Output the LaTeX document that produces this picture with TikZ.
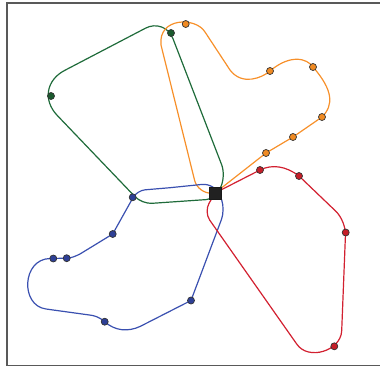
\documentclass[tikz,border=0pt]{standalone}
\usetikzlibrary{calc}
\definecolor{lgreen}{HTML}{1F6B3A}
\definecolor{dgreen}{HTML}{1A5A2E}
\definecolor{lorange}{HTML}{F7902A}
\definecolor{dorange}{HTML}{F08A22}
\definecolor{lred}{HTML}{D22030}
\definecolor{dred}{HTML}{C61E28}
\definecolor{lblue}{HTML}{3A50B0}
\definecolor{dblue}{HTML}{2E4096}
\begin{document}
\begin{tikzpicture}[x=1pt,y=-1pt,
  metro/.style={line width=1.2pt,line join=round},
  stn/.style={circle,draw=black!80,line width=0.7pt,inner sep=0pt,minimum size=7pt},
  hubsq/.style={rectangle,fill=black!87,draw=black!90,inner sep=0pt,minimum size=11.5pt}]
\useasboundingbox (0,0) rectangle (380,367);
\draw[black!65,line width=1.3pt] (380,3) -- (7,3) -- (7,365.5) -- (380,365.5);
\coordinate (H) at (215,193);
% green line
\draw[metro,lgreen] (190,200.7)
  [rounded corners=9pt] -- (215,199)
  [rounded corners=12pt] -- (226,176)
  [rounded corners=22pt] -- (165,18)
  [rounded corners=38pt] -- (31,88)
  [rounded corners=10pt] -- (142,204)
  [sharp corners] -- (190,200.7);
% orange line
\draw[metro,lorange] (H) -- (266,153) -- (293,137) -- (322,117)
  .. controls (334,105) and (333,90) .. (313,67)
  .. controls (307,58) and (290,54) .. (270,71)
  .. controls (262,78) and (242,86) .. (230,70)
  -- (205,32)
  .. controls (196,17) and (158,17) .. (161,45)
  [rounded corners=14pt] -- (198,194) [sharp corners] -- (H);
% blue line
\draw[metro,lblue] (170,187.7)
  [rounded corners=14pt] -- (216,183)
  [rounded corners=10pt] -- (225,210)
  [sharp corners] -- (191,300.5) -- (140,326.5)
  .. controls (128,332) and (115,331) .. (104.7,321.7)
  .. controls (99,317) and (95,315.5) .. (88,314.8)
  -- (46,309)
  .. controls (20,305.5) and (22,259) .. (50,258.5)
  -- (66.7,258.2)
  .. controls (71,258) and (75,256.5) .. (80,254)
  [rounded corners=4pt] -- (112.7,234)
  [rounded corners=8pt] -- (137,190.5)
  [sharp corners] -- (170,187.7);
% red line
\draw[metro,lred] (H) -- (260,170)
  .. controls (272,164) and (286,166) .. (299,176)
  [rounded corners=14pt] -- (346,221)
  [sharp corners] -- (341.7,330.7)
  .. controls (340.9,351) and (308,361) .. (296.7,344)
  [rounded corners=10pt] -- (204,212)
  [sharp corners] -- (H);
% stations
\node[stn,fill=dgreen] (g1) at (171,33) {};
\node[stn,fill=dgreen] (g2) at (51,96) {};
\node[stn,fill=dorange] (o1) at (185.7,24) {};
\node[stn,fill=dorange] (o2) at (270,71) {};
\node[stn,fill=dorange] (o3) at (313,67) {};
\node[stn,fill=dorange] (o4) at (322,117) {};
\node[stn,fill=dorange] (o5) at (293,137) {};
\node[stn,fill=dorange] (o6) at (266,153) {};
\node[stn,fill=dred] (r1) at (260,170) {};
\node[stn,fill=dred] (r2) at (299,176) {};
\node[stn,fill=dred] (r3) at (345.7,232.5) {};
\node[stn,fill=dred] (r4) at (334.3,346.3) {};
\node[stn,fill=dblue] (b1) at (132.7,197.3) {};
\node[stn,fill=dblue] (b2) at (112.7,234) {};
\node[stn,fill=dblue] (b3) at (53.3,258.5) {};
\node[stn,fill=dblue] (b4) at (66.7,258.2) {};
\node[stn,fill=dblue] (b5) at (104.7,321.7) {};
\node[stn,fill=dblue] (b6) at (191,300.5) {};
\node[hubsq] (hub) at (H) {};
\end{tikzpicture}
\end{document}
